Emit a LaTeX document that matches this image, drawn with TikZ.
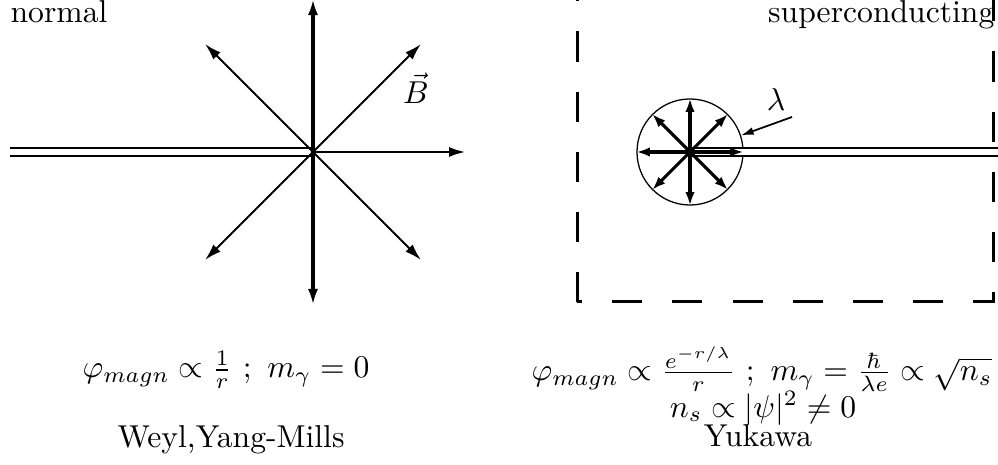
\documentclass[tikz,border=0pt]{standalone}
\usepackage{amsmath}
\usetikzlibrary{arrows.meta}

\tikzset{
  fieldthick/.style={line width=1.3pt, -{Latex[length=5pt,width=3.2pt]}},
  fieldthin/.style={line width=0.65pt, -{Latex[length=5.3pt,width=3.2pt]}},
  fieldmid/.style={line width=0.85pt, -{Latex[length=5.3pt,width=3.2pt]}},
  fieldin/.style={line width=1pt, -{Latex[length=4.3pt,width=3pt]}},
  vortex/.style={double, double distance=1.7pt, line width=0.63pt},
  formula/.style={inner sep=1pt},
}

\begin{document}
\begin{tikzpicture}[x=0.01111cm, y=0.01111cm]
\useasboundingbox (0,0) rectangle (998,464);

% normal state
\node[circle, minimum size=3.38cm, inner sep=0pt] (nb) at (313,312) {};
\draw[vortex] (10,312) coordinate (nl) -- (nb.center);
\draw[fieldthick] (nb.center) -- (nb.90);
\draw[fieldthick] (nb.center) -- (nb.270);
\draw[fieldmid] (nb.center) -- (nb.0);
\foreach \a in {45,135,225,315}
  \draw[fieldthin] (nb.center) -- (nb.\a);
\node (bvec) at (416,376) {$\vec{B}$};
\node[anchor=base west, inner sep=0pt] (normal) at (10,441) {normal};

% superconducting state
\draw[line width=0.95pt, dash pattern=on 9.5pt off 9.5pt] (577,162) rectangle (993,470);
\node[circle, draw, line width=0.4pt, minimum size=1.178cm, inner sep=0pt] (sc) at (690,312) {};
\draw[vortex] (sc.center) -- (1000,312) coordinate (nr);
\draw[fieldthick, -{Latex[length=4.3pt,width=3pt]}] (sc.center) -- (sc.90);
\draw[fieldthick, -{Latex[length=4.3pt,width=3pt]}] (sc.center) -- (sc.270);
\foreach \a in {0,45,135,180,225,315}
  \draw[fieldin] (sc.center) -- (sc.\a);
\node (lam) at (776,364) {$\lambda$};
\coordinate (lamfrom) at (792,347);
\draw[line width=0.55pt, -{Latex[length=4pt,width=2.5pt]}] (lamfrom) -- (sc.18);
\node[anchor=base east, inner sep=0pt] (supc) at (995,441) {superconducting};

% formulas
\node[formula] (fl) at (226,94) {$\varphi_{magn}\propto\frac{1}{r}\ ;\ m_\gamma=0$};
\node[formula] (wym) at (231,24) {Weyl,Yang-Mills};
\node[formula] (fr) at (762,95) {$\varphi_{magn}\propto\frac{e^{-r/\lambda}}{r}\ ;\ m_\gamma=\frac{\hbar}{\lambda e}\propto\sqrt{n_s}$};
\node[formula, anchor=base] (ns) at (763,47) {$n_s\propto|\psi|^2\neq0$};
\node[formula, anchor=base] (yuk) at (758,18) {Yukawa};
\end{tikzpicture}
\end{document}
